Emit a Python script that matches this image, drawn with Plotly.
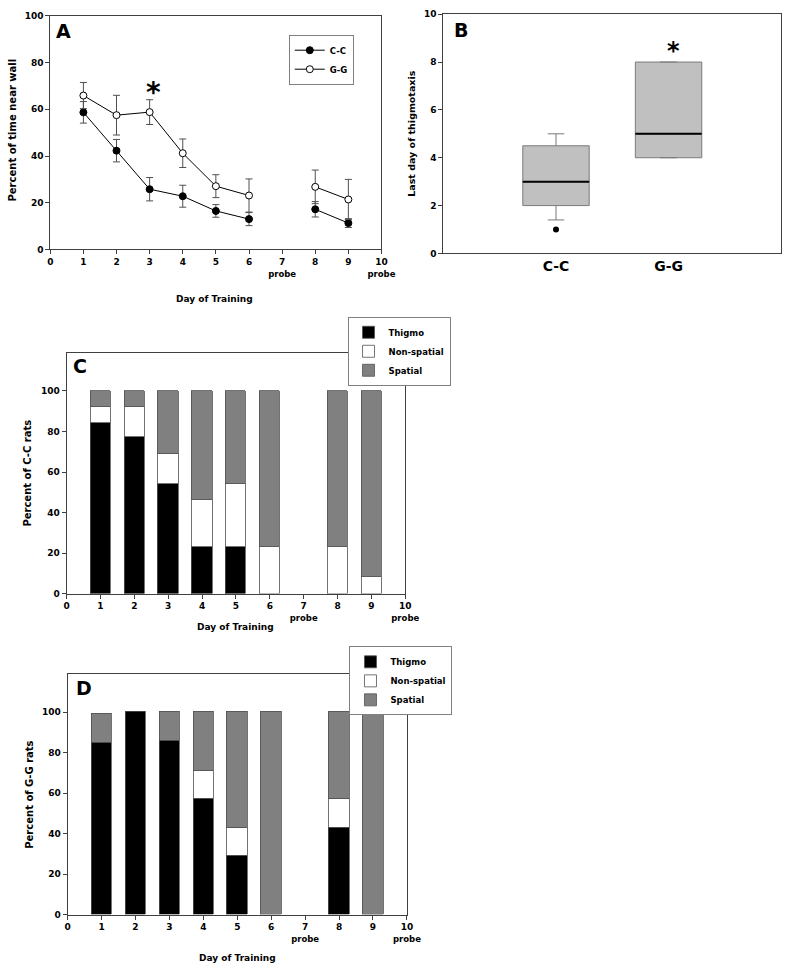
import plotly.graph_objects as go

# ---------------- data ----------------
days = [1, 2, 3, 4, 5, 6, 7, 8, 9]
cc_mean = [58.7, 42.3, 25.8, 22.8, 16.5, 13.0, None, 17.2, 11.3]
cc_err = [4.6, 4.8, 5.0, 4.7, 2.7, 2.8, 0, 3.3, 1.9]
gg_mean = [65.9, 57.5, 58.8, 41.2, 27.1, 23.1, None, 26.8, 21.4]
gg_err = [5.6, 8.5, 5.3, 6.1, 4.9, 7.1, 0, 7.2, 8.6]

groups = ["C-C", "G-G"]
group_pos = [1, 2]
box_q1 = [2, 4]
box_median = [3, 5]
box_q3 = [4.5, 8]
box_low = [1.4, 4]
box_high = [5, 8]
cc_outliers = [1]

bar_days = [1, 2, 3, 4, 5, 6, 8, 9]
cc_thigmo = [84, 77, 54, 23, 23, None, None, None]
cc_nonsp = [8, 15, 15, 23, 31, 23, 23, 8]
cc_spatial = [8, 8, 31, 54, 46, 77, 77, 92]
gg_thigmo = [85, 100, 86, 57, 29, None, 43, None]
gg_nonsp = [None, None, None, 14, 14, None, 14, None]
gg_spatial = [14, None, 14, 29, 57, 100, 43, 100]

x_ticks = list(range(0, 11))
x_ticktext = [str(v) for v in x_ticks]
x_ticktext[7] = "7<br><span style='font-size:8.5px'>probe</span>"
x_ticktext[10] = "10<br><span style='font-size:8.5px'>probe</span>"

FONT = "DejaVu Sans"
AX = "#404040"
W, H = 800, 975

def px_x(p):
    return p / W

def px_y(p):
    return 1 - p / H

fig = go.Figure()

# ---------------- Panel A ----------------
fig.add_trace(go.Scatter(
    x=days, y=cc_mean, mode="lines+markers", name="C-C",
    line=dict(color="black", width=1), connectgaps=False,
    marker=dict(symbol="circle", size=7, color="black", line=dict(color="black", width=1)),
    error_y=dict(type="data", array=cc_err, color="#505050", thickness=1, width=3.5),
    xaxis="x", yaxis="y", legend="legend"))
fig.add_trace(go.Scatter(
    x=days, y=gg_mean, mode="lines+markers", name="G-G",
    line=dict(color="black", width=1), connectgaps=False,
    marker=dict(symbol="circle", size=7, color="white", line=dict(color="black", width=1)),
    error_y=dict(type="data", array=gg_err, color="#505050", thickness=1, width=3.5),
    xaxis="x", yaxis="y", legend="legend"))

# ---------------- Panel B ----------------
for i in range(len(groups)):
    fig.add_trace(go.Box(
        x=[group_pos[i]], q1=[box_q1[i]], median=[box_median[i]], q3=[box_q3[i]],
        lowerfence=[box_low[i]], upperfence=[box_high[i]],
        width=0.59, whiskerwidth=0.25,
        fillcolor="#c0c0c0", line=dict(color="#7a7a7a", width=1),
        showlegend=False, xaxis="x2", yaxis="y2", hoverinfo="skip"))
    half = 0.59 / 2
    fig.add_trace(go.Scatter(
        x=[group_pos[i] - half, group_pos[i] + half], y=[box_median[i], box_median[i]],
        mode="lines", line=dict(color="black", width=2), showlegend=False,
        xaxis="x2", yaxis="y2", hoverinfo="skip"))
fig.add_trace(go.Scatter(
    x=[group_pos[0]] * len(cc_outliers), y=cc_outliers, mode="markers",
    marker=dict(color="black", size=6), showlegend=False, xaxis="x2", yaxis="y2"))

# ---------------- Panels C and D ----------------
bar_line = dict(color="#505050", width=0.8)
for (th, ns, sp, xa, ya, lg) in [
        (cc_thigmo, cc_nonsp, cc_spatial, "x3", "y3", "legend2"),
        (gg_thigmo, gg_nonsp, gg_spatial, "x4", "y4", "legend3")]:
    fig.add_trace(go.Bar(x=bar_days, y=th, name="Thigmo", width=0.6,
                         marker=dict(color="black", line=bar_line),
                         xaxis=xa, yaxis=ya, legend=lg))
    fig.add_trace(go.Bar(x=bar_days, y=ns, name="Non-spatial", width=0.6,
                         marker=dict(color="white", line=bar_line),
                         xaxis=xa, yaxis=ya, legend=lg))
    fig.add_trace(go.Bar(x=bar_days, y=sp, name="Spatial", width=0.6,
                         marker=dict(color="#808080", line=bar_line),
                         xaxis=xa, yaxis=ya, legend=lg))

tickfont = dict(family=FONT, size=9, color="black", weight="bold")

def axis_common():
    return dict(showline=True, mirror=True, linecolor=AX, linewidth=1,
                ticks="outside", ticklen=4, tickcolor=AX, tickwidth=1,
                showgrid=False, zeroline=False, tickfont=tickfont)

xA = axis_common(); xA.update(domain=[px_x(48.3), px_x(386.7)], range=[0, 10],
                              tickvals=x_ticks, ticktext=x_ticktext, anchor="y")
yA = axis_common(); yA.update(domain=[px_y(247), px_y(11)], range=[0, 100],
                              tickvals=[0, 20, 40, 60, 80, 100], anchor="x")
xB = axis_common(); xB.update(domain=[px_x(450), px_x(795)], range=[0, 3],
                              tickvals=group_pos, ticktext=groups, ticks="",
                              tickfont=dict(family=FONT, size=14, color="black", weight="bold"),
                              anchor="y2")
yB = axis_common(); yB.update(domain=[px_y(251), px_y(9.3)], range=[0, 10],
                              tickvals=[0, 2, 4, 6, 8, 10], anchor="x2")
xC = axis_common(); xC.update(domain=[px_x(65), px_x(411)], range=[0, 10],
                              tickvals=x_ticks, ticktext=x_ticktext, anchor="y3")
yC = axis_common(); yC.update(domain=[px_y(594.7), px_y(351.7)], range=[0, 118.7],
                              tickvals=[0, 20, 40, 60, 80, 100], anchor="x3")
xD = axis_common(); xD.update(domain=[px_x(66), px_x(412.7)], range=[0, 10],
                              tickvals=x_ticks, ticktext=x_ticktext, anchor="y4")
yD = axis_common(); yD.update(domain=[px_y(919), px_y(675.7)], range=[0, 119],
                              tickvals=[0, 20, 40, 60, 80, 100], anchor="x4")

legfont = dict(family=FONT, size=8.5, color="black", weight="bold")
def leg(xp, yp):
    return dict(x=px_x(xp), y=px_y(yp), xanchor="left", yanchor="top",
                bgcolor="white", bordercolor="#808080", borderwidth=1,
                font=legfont, tracegroupgap=0, itemwidth=30,
                traceorder="normal")

fig.update_layout(
    width=W, height=H, margin=dict(l=0, r=0, t=0, b=0),
    paper_bgcolor="white", plot_bgcolor="white",
    barmode="stack", bargap=0,
    xaxis=xA, yaxis=yA, xaxis2=xB, yaxis2=yB,
    xaxis3=xC, yaxis3=yC, xaxis4=xD, yaxis4=yD,
    legend=leg(292, 30), legend2=leg(352, 315), legend3=leg(354, 648),
    showlegend=True,
)

annots = []
def txt(x, y, t, size, angle=0, xref="paper", yref="paper"):
    annots.append(dict(x=x, y=y, xref=xref, yref=yref, text=t, showarrow=False,
                       textangle=angle, xanchor="center", yanchor="middle",
                       font=dict(family=FONT, size=size, color="black", weight="bold")))

# titles
txt(px_x(10), px_y(126), "Percent of time near wall", 10, -90)
txt(px_x(216), px_y(297), "Day of Training", 9)
txt(px_x(418), px_y(130), "Last day of thigmotaxis", 9.5, -90)
txt(px_x(25.5), px_y(472.5), "Percent of C-C rats", 10, -90)
txt(px_x(238), px_y(628), "Day of Training", 9)
txt(px_x(27), px_y(797.5), "Percent of G-G rats", 10, -90)
txt(px_x(240), px_y(963), "Day of Training", 9)
# panel letters
txt(px_x(62), px_y(26), "A", 19)
txt(px_x(468), px_y(25), "B", 19)
txt(px_x(79), px_y(365), "C", 19)
txt(px_x(83), px_y(690), "D", 19)
# significance marks
txt(px_x(154), px_y(88), "*", 28)
txt(px_x(685), px_y(46), "*", 24)

fig.update_layout(annotations=annots)
fig.write_html("out.html", config={"displayModeBar": False},
               post_script="document.body.style.margin='0';document.body.style.padding='0';")
